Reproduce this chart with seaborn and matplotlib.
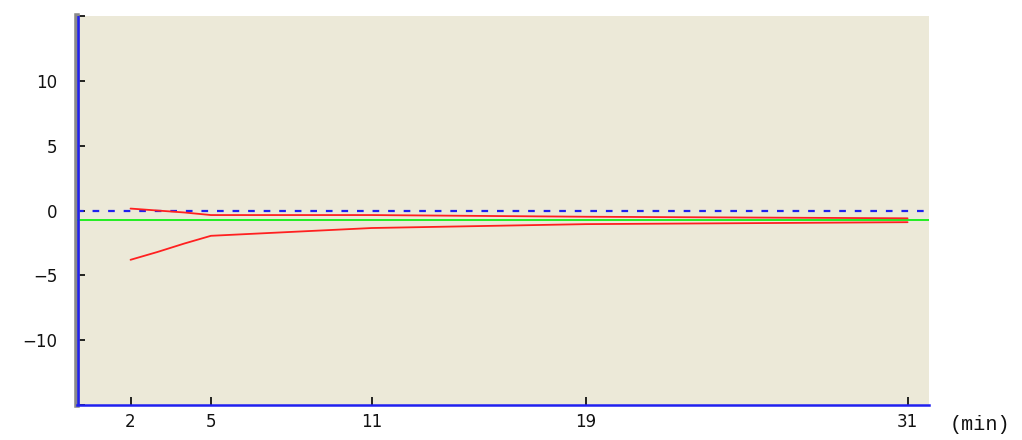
import pandas as pd
import matplotlib
matplotlib.use("Agg")
import matplotlib.pyplot as plt
import seaborn as sns

# data
minutes = [2, 3, 4, 5, 11, 19, 31]
upper_red = [0.15, 0.0, -0.15, -0.35, -0.35, -0.48, -0.6]
lower_red = [-3.8, -3.2, -2.55, -1.95, -1.35, -1.05, -0.9]
green_level = -0.75
zero_level = 0.0
x_ticks = [2, 5, 11, 19, 31]
y_ticks = [-15, -10, -5, 0, 5, 10, 15]
y_labels = ["", "\u221210", "\u22125", "0", "5", "10", ""]

sns.set_theme(style="white")
plt.rcParams["font.family"] = ["DejaVu Sans"]

df = pd.DataFrame({
    "min": minutes * 2,
    "value": upper_red + lower_red,
    "series": ["upper"] * len(minutes) + ["lower"] * len(minutes),
})

fig = plt.figure(figsize=(10.22, 4.4), dpi=100)
fig.patch.set_facecolor("white")
ax = fig.add_axes([0.0753, 0.0795, 0.909 - 0.0753, 0.9636 - 0.0795])
ax.set_facecolor("#ECE9D8")

ax.axhline(zero_level, color="#2020F0", lw=1.6, ls=(0, (3, 4)), zorder=2)
ax.axhline(green_level, color="#22EE22", lw=1.4, zorder=3)

sns.lineplot(data=df, x="min", y="value", units="series", estimator=None,
             color="#FF2020", lw=1.3, ax=ax, legend=False, zorder=4)

ax.set_xlim(0, 31.8)
ax.set_ylim(-15, 15)
ax.set_xticks(x_ticks)
ax.set_xticklabels([str(t) for t in x_ticks])
ax.set_yticks(y_ticks)
ax.set_yticklabels(y_labels)
ax.set_xlabel("")
ax.set_ylabel("")

for s in ["top", "right"]:
    ax.spines[s].set_visible(False)
ax.spines["left"].set_color("#8A8A8A")
ax.spines["left"].set_linewidth(4)
ax.spines["bottom"].set_color("#2020F0")
ax.spines["bottom"].set_linewidth(1.8)
ax.axvline(0.05, color="#2020F0", lw=1.8, zorder=5)

ax.tick_params(axis="both", direction="in", length=6, width=1.2, color="black",
               labelsize=12, labelcolor="#111111")
ax.tick_params(axis="y", pad=14, left=True)
ax.tick_params(axis="x", pad=6, bottom=True)

fig.text(0.929, 0.022, "(min)", fontsize=14.5, family=["Liberation Mono"], color="#111111")

fig.savefig("out.png", dpi=100, facecolor="white")
